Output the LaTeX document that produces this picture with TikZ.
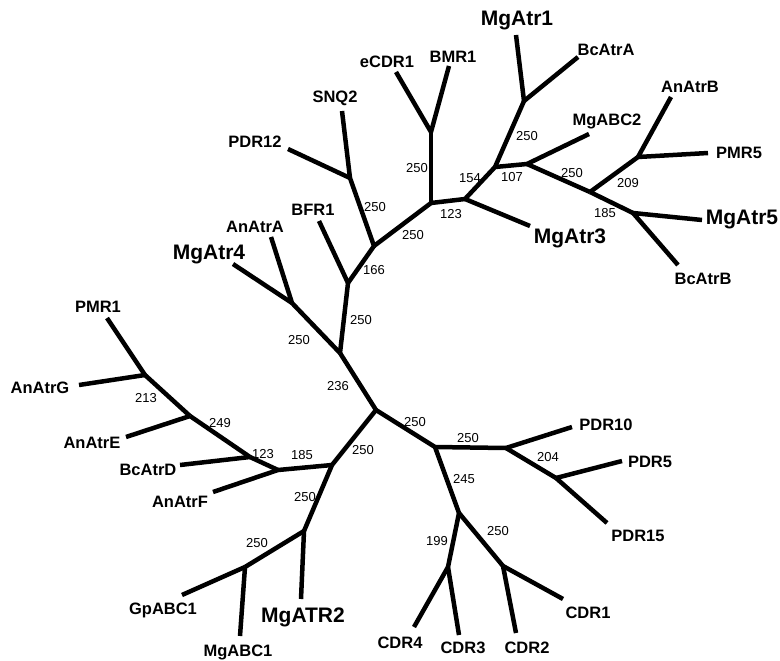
\documentclass[tikz,border=0pt]{standalone}
\usepackage{fontspec}
\setmainfont{Liberation Sans}
\begin{document}
\begin{tikzpicture}[x=1bp,y=-1bp,
  br/.style={line width=4.5bp, line join=round},
  leaf/.style={font=\bfseries\fontsize{16.5bp}{17bp}\selectfont, inner sep=0pt},
  bigleaf/.style={font=\bfseries\fontsize{21bp}{22bp}\selectfont, inner sep=0pt},
  boot/.style={font=\fontsize{13bp}{14bp}\selectfont, inner sep=0pt}]
\useasboundingbox[fill=white] (0,0) rectangle (780,661);
% internal nodes
\coordinate (A) at (431,203);
\coordinate (A1) at (431,132);
\coordinate (B) at (465,199);
\coordinate (C) at (495,167);
\coordinate (C1) at (524,101);
\coordinate (E) at (527,164);
\coordinate (F) at (590,192);
\coordinate (G) at (638,157);
\coordinate (H) at (633,213);
\coordinate (D) at (374,246);
\coordinate (D1) at (350,178);
\coordinate (I) at (348,283);
\coordinate (J) at (340,353);
\coordinate (K) at (292,303);
\coordinate (L) at (376,410);
\coordinate (P) at (435,447);
\coordinate (U) at (506,448);
\coordinate (V) at (556,478);
\coordinate (W) at (459,513);
\coordinate (X) at (448,567);
\coordinate (Y) at (503,566);
\coordinate (O) at (332,465);
\coordinate (R) at (278,470);
\coordinate (Q) at (250,457);
\coordinate (N) at (190,416);
\coordinate (M) at (145,375);
\coordinate (S) at (304,531);
\coordinate (T) at (245,567);
% leaf ends
\coordinate (eCDR1) at (396,72);
\coordinate (BMR1) at (449,66);
\coordinate (MgAtr1) at (516,35);
\coordinate (BcAtrA) at (578,57);
\coordinate (MgABC2) at (589,134);
\coordinate (AnAtrB) at (671,97);
\coordinate (PMR5) at (708,153);
\coordinate (MgAtr5) at (702,220);
\coordinate (BcAtrB) at (678,265);
\coordinate (MgAtr3) at (530,226);
\coordinate (SNQ2) at (342,111);
\coordinate (PDR12) at (288,149);
\coordinate (BFR1) at (319,221);
\coordinate (AnAtrA) at (271,237);
\coordinate (MgAtr4) at (233,264);
\coordinate (PMR1) at (107,318);
\coordinate (AnAtrG) at (79,385);
\coordinate (AnAtrE) at (126,437);
\coordinate (BcAtrD) at (180,465);
\coordinate (AnAtrF) at (213,492);
\coordinate (GpABC1) at (182,595);
\coordinate (MgABC1) at (240,636);
\coordinate (MgATR2) at (301,599);
\coordinate (CDR4) at (414,627);
\coordinate (CDR3) at (459,635);
\coordinate (CDR2) at (516,633);
\coordinate (CDR1) at (563,599);
\coordinate (PDR15) at (607,523);
\coordinate (PDR5) at (622,461);
\coordinate (PDR10) at (572,427);
% branches
\draw[br] (A1) -- (eCDR1);
\draw[br] (A1) -- (BMR1);
\draw[br] (A) -- (A1);
\draw[br] (A) -- (B);
\draw[br] (A) -- (D);
\draw[br] (B) -- (C);
\draw[br] (B) -- (MgAtr3);
\draw[br] (C) -- (C1);
\draw[br] (C1) -- (MgAtr1);
\draw[br] (C1) -- (BcAtrA);
\draw[br] (C) -- (E);
\draw[br] (E) -- (MgABC2);
\draw[br] (E) -- (F);
\draw[br] (F) -- (G);
\draw[br] (G) -- (AnAtrB);
\draw[br] (G) -- (PMR5);
\draw[br] (F) -- (H);
\draw[br] (H) -- (MgAtr5);
\draw[br] (H) -- (BcAtrB);
\draw[br] (D) -- (D1);
\draw[br] (D1) -- (SNQ2);
\draw[br] (D1) -- (PDR12);
\draw[br] (D) -- (I);
\draw[br] (I) -- (BFR1);
\draw[br] (I) -- (J);
\draw[br] (J) -- (K);
\draw[br] (K) -- (AnAtrA);
\draw[br] (K) -- (MgAtr4);
\draw[br] (J) -- (L);
\draw[br] (L) -- (P);
\draw[br] (L) -- (O);
\draw[br] (P) -- (U);
\draw[br] (U) -- (PDR10);
\draw[br] (U) -- (V);
\draw[br] (V) -- (PDR5);
\draw[br] (V) -- (PDR15);
\draw[br] (P) -- (W);
\draw[br] (W) -- (X);
\draw[br] (X) -- (CDR4);
\draw[br] (X) -- (CDR3);
\draw[br] (W) -- (Y);
\draw[br] (Y) -- (CDR1);
\draw[br] (Y) -- (CDR2);
\draw[br] (O) -- (R);
\draw[br] (R) -- (AnAtrF);
\draw[br] (R) -- (Q);
\draw[br] (Q) -- (BcAtrD);
\draw[br] (Q) -- (N);
\draw[br] (N) -- (AnAtrE);
\draw[br] (N) -- (M);
\draw[br] (M) -- (AnAtrG);
\draw[br] (M) -- (PMR1);
\draw[br] (O) -- (S);
\draw[br] (S) -- (MgATR2);
\draw[br] (S) -- (T);
\draw[br] (T) -- (GpABC1);
\draw[br] (T) -- (MgABC1);
% leaf labels
\node[leaf] (leCDR1) at (387,62) {eCDR1};
\node[leaf] (lBMR1) at (453,57) {BMR1};
\node[bigleaf] (lMgAtr1) at (517,21) {MgAtr1};
\node[leaf] (lBcAtrA) at (606,50) {BcAtrA};
\node[leaf] (lMgABC2) at (607,121) {MgABC2};
\node[leaf] (lAnAtrB) at (690,87) {AnAtrB};
\node[leaf] (lPMR5) at (739,153) {PMR5};
\node[bigleaf] (lMgAtr5) at (742,220) {MgAtr5};
\node[leaf] (lBcAtrB) at (703,279) {BcAtrB};
\node[bigleaf] (lMgAtr3) at (570,238) {MgAtr3};
\node[leaf] (lSNQ2) at (335,98) {SNQ2};
\node[leaf] (lPDR12) at (255,142) {PDR12};
\node[leaf] (lBFR1) at (313,210) {BFR1};
\node[leaf] (lAnAtrA) at (255,227) {AnAtrA};
\node[bigleaf] (lMgAtr4) at (209,254) {MgAtr4};
\node[leaf] (lPMR1) at (98,307) {PMR1};
\node[leaf] (lAnAtrG) at (40,388) {AnAtrG};
\node[leaf] (lAnAtrE) at (92,443) {AnAtrE};
\node[leaf] (lBcAtrD) at (148,470) {BcAtrD};
\node[leaf] (lAnAtrF) at (180,502) {AnAtrF};
\node[leaf] (lGpABC1) at (163,610) {GpABC1};
\node[leaf] (lMgABC1) at (238,652) {MgABC1};
\node[bigleaf] (lMgATR2) at (303,617) {MgATR2};
\node[leaf] (lCDR4) at (400,643) {CDR4};
\node[leaf] (lCDR3) at (463,648) {CDR3};
\node[leaf] (lCDR2) at (527,648) {CDR2};
\node[leaf] (lCDR1) at (588,613) {CDR1};
\node[leaf] (lPDR15) at (638,536) {PDR15};
\node[leaf] (lPDR5) at (650,462) {PDR5};
\node[leaf] (lPDR10) at (606,425) {PDR10};
% bootstrap values
\node[boot] (b1) at (417,168) {250};
\node[boot] (b2) at (451,214) {123};
\node[boot] (b3) at (470,178) {154};
\node[boot] (b4) at (527,136) {250};
\node[boot] (b5) at (512,177) {107};
\node[boot] (b6) at (572,173) {250};
\node[boot] (b7) at (628,183) {209};
\node[boot] (b8) at (605,213) {185};
\node[boot] (b9) at (413,235) {250};
\node[boot] (b10) at (375,207) {250};
\node[boot] (b11) at (374,270) {166};
\node[boot] (b12) at (361,320) {250};
\node[boot] (b13) at (299,340) {250};
\node[boot] (b14) at (338,386) {236};
\node[boot] (b15) at (146,398) {213};
\node[boot] (b16) at (220,423) {249};
\node[boot] (b17) at (263,454) {123};
\node[boot] (b18) at (302,455) {185};
\node[boot] (b19) at (363,450) {250};
\node[boot] (b20) at (415,422) {250};
\node[boot] (b21) at (468,438) {250};
\node[boot] (b22) at (548,457) {204};
\node[boot] (b23) at (464,479) {245};
\node[boot] (b24) at (437,541) {199};
\node[boot] (b25) at (498,531) {250};
\node[boot] (b26) at (305,497) {250};
\node[boot] (b27) at (257,543) {250};
\end{tikzpicture}
\end{document}
